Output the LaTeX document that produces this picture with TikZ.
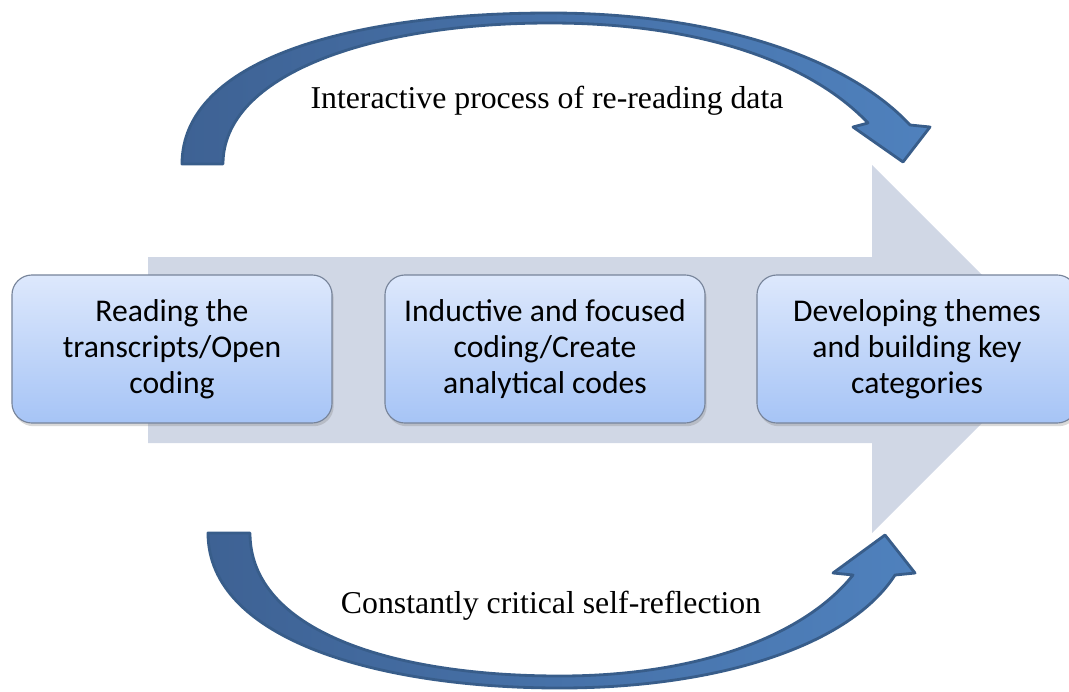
\documentclass[tikz,border=0pt]{standalone}
\usepackage{fontspec}
\setmainfont{Liberation Serif}
\newfontfamily\boxfont{Carlito}
\usetikzlibrary{shadows}
\definecolor{shaftgray}{HTML}{D0D7E5}
\definecolor{arcdark}{HTML}{3E6294}
\definecolor{arclight}{HTML}{4F81BD}
\definecolor{arcedge}{HTML}{385D8A}
\definecolor{boxtop}{HTML}{DDE8FC}
\definecolor{boxbottom}{HTML}{A6C4F6}
\definecolor{boxedge}{HTML}{77849A}

\begin{document}
\begin{tikzpicture}[x=0.025cm, y=-0.025cm,
	stage/.style={draw=boxedge, line width=0.8pt, rounded corners=0.5cm, top color=boxtop, bottom color=boxbottom,
		minimum width=8cm, minimum height=3.7cm, align=center, font=\boxfont\fontsize{22.5}{25.6}\selectfont,
		drop shadow={opacity=0.3, shadow xshift=0.04cm, shadow yshift=-0.08cm}},
	loop/.style={draw=arcedge, line width=2pt, line join=round, left color=arcdark, right color=arclight},
	caption/.style={font=\fontsize{22.6}{26}\selectfont}]
	\useasboundingbox (0,0) rectangle (1069,691);
	\fill[shaftgray] (148,257) -- (872,257) -- (872,165) -- (1056,349) -- (872,533) -- (872,443) -- (148,443) -- cycle;
	\draw[loop] (182,164) .. controls (182,60) and (350,13) .. (550,13) .. controls (720,13) and (850,60) .. (910,125)
		-- (930,127) -- (903,162) -- (853,127) -- (868,123)
		.. controls (810,62) and (700,23) .. (550,23) .. controls (370,23) and (223,75) .. (223,164) -- cycle;
	\draw[loop] (208,533) .. controls (208,640) and (380,688) .. (560,688) .. controls (720,688) and (850,645) .. (895,575)
		-- (915,573) -- (885,535) -- (833,573) -- (853,575)
		.. controls (805,635) and (700,676) .. (560,676) .. controls (390,676) and (250,630) .. (250,533) -- cycle;
	\node[stage] (read) at (172,349) {Reading the\\transcripts/Open\\coding};
	\node[stage] (code) at (545,349) {Inductive and focused\\coding/Create\\analytical codes};
	\node[stage] (theme) at (917,349) {Developing themes\\and building key\\categories};
	\node[caption] (reread) at (547,101) {Interactive process of re-reading data};
	\node[caption] (reflect) at (551,606) {Constantly critical self-reflection};
\end{tikzpicture}
\end{document}
